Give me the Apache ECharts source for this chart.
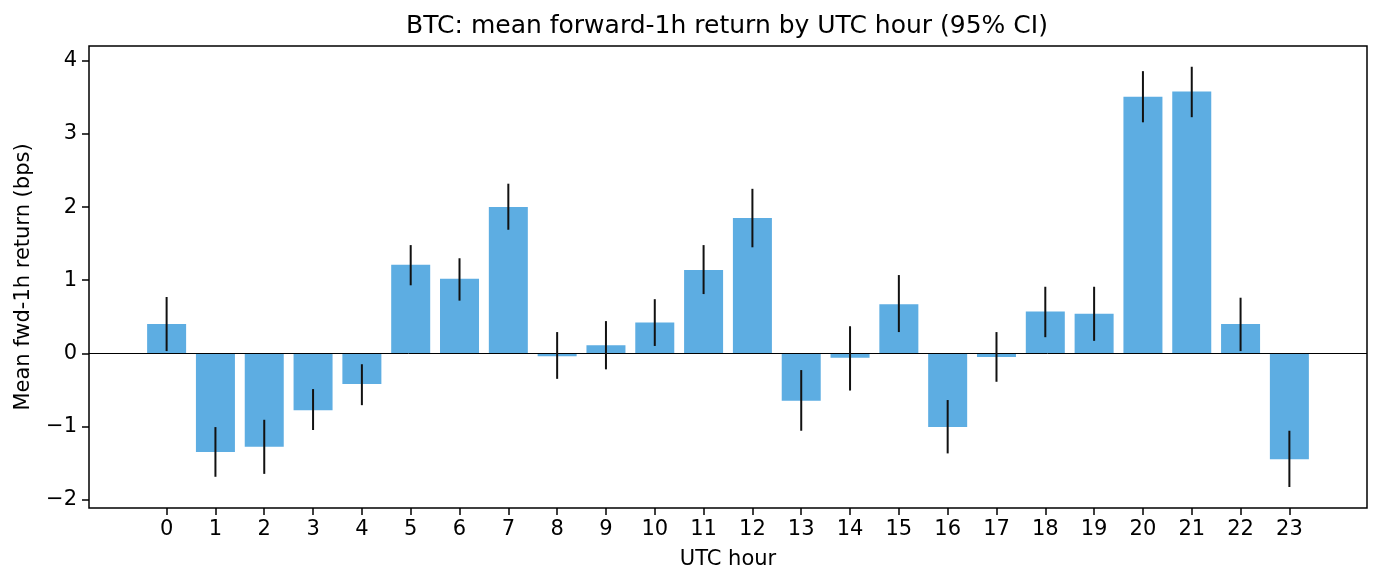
<!DOCTYPE html>
<html>
<head>
<meta charset="utf-8">
<script src="https://cdn.jsdelivr.net/npm/echarts@6/dist/echarts.min.js"></script>
<style>
html,body{margin:0;padding:0;background:#fff;}
#chart{width:1382px;height:586px;}
</style>
</head>
<body>
<div id="chart"></div>
<script>
const hours = [0,1,2,3,4,5,6,7,8,9,10,11,12,13,14,15,16,17,18,19,20,21,22,23];
const means = [0.40,-1.35,-1.28,-0.78,-0.42,1.21,1.02,2.00,-0.04,0.11,0.42,1.14,1.85,-0.65,-0.06,0.67,-1.01,-0.05,0.57,0.54,3.51,3.58,0.40,-1.45];
const ciLow = [0.03,-1.69,-1.65,-1.05,-0.71,0.93,0.72,1.69,-0.35,-0.22,0.10,0.81,1.45,-1.06,-0.51,0.29,-1.37,-0.39,0.22,0.17,3.16,3.23,0.03,-1.83];
const ciHigh = [0.77,-1.01,-0.91,-0.49,-0.15,1.48,1.30,2.32,0.29,0.44,0.74,1.48,2.25,-0.23,0.37,1.07,-0.64,0.29,0.91,0.91,3.86,3.92,0.76,-1.06];
const yTicks = [-2,-1,0,1,2,3,4];
const xTicks = hours;

const FONT = 'DejaVu Sans';
const chart = echarts.init(document.getElementById('chart'), null, {renderer:'canvas'});
const fmtNum = v => (v < 0 ? '\u2212' + Math.abs(v) : String(v));

chart.setOption({
  animation: false,
  backgroundColor: '#fff',
  title: {
    text: 'BTC: mean forward-1h return by UTC hour (95% CI)',
    left: 722, top: 9, textAlign: 'center',
    textStyle: {fontFamily: FONT, fontSize: 25, fontWeight: 'normal', color: '#000'}
  },
  grid: {left: 89, right: 15, top: 46, bottom: 78, show: true, borderColor: '#000', borderWidth: 1.5, backgroundColor: 'transparent'},
  xAxis: {
    type: 'value', min: -1.59, max: 24.59,
    name: 'UTC hour', nameLocation: 'middle', nameGap: 41,
    nameTextStyle: {fontFamily: FONT, fontSize: 21, color: '#000'},
    axisLine: {show: false, onZero: false},
    splitLine: {show: false},
    axisTick: {show: true, length: 7, customValues: xTicks, lineStyle: {color: '#000', width: 1.5}},
    axisLabel: {customValues: xTicks, fontFamily: FONT, fontSize: 21, color: '#000', margin: 11, formatter: fmtNum}
  },
  yAxis: {
    type: 'value', min: -2.117, max: 4.204,
    name: 'Mean fwd-1h return (bps)', nameLocation: 'middle', nameGap: 55,
    nameTextStyle: {fontFamily: FONT, fontSize: 21, color: '#000'},
    axisLine: {show: false, onZero: false},
    splitLine: {show: false},
    axisTick: {show: true, length: 7, customValues: yTicks, lineStyle: {color: '#000', width: 1.5}},
    axisLabel: {customValues: yTicks, fontFamily: FONT, fontSize: 21, color: '#000', margin: 12, formatter: fmtNum}
  },
  series: [
    {
      type: 'bar',
      data: hours.map((h, i) => [h, means[i]]),
      barWidth: 39,
      itemStyle: {color: '#5dade2'},
      silent: true,
      markLine: {
        silent: true, symbol: 'none', label: {show: false},
        lineStyle: {color: '#000', width: 1, type: 'solid'},
        data: [{yAxis: 0}]
      }
    },
    {
      type: 'custom',
      data: hours.map((h, i) => [h, ciLow[i], ciHigh[i]]),
      renderItem: function (params, api) {
        const p1 = api.coord([api.value(0), api.value(1)]);
        const p2 = api.coord([api.value(0), api.value(2)]);
        return {type: 'line', shape: {x1: p1[0], y1: p1[1], x2: p2[0], y2: p2[1]}, style: {stroke: '#111', lineWidth: 2}};
      },
      z: 5, silent: true
    }
  ]
});
</script>
</body>
</html>
